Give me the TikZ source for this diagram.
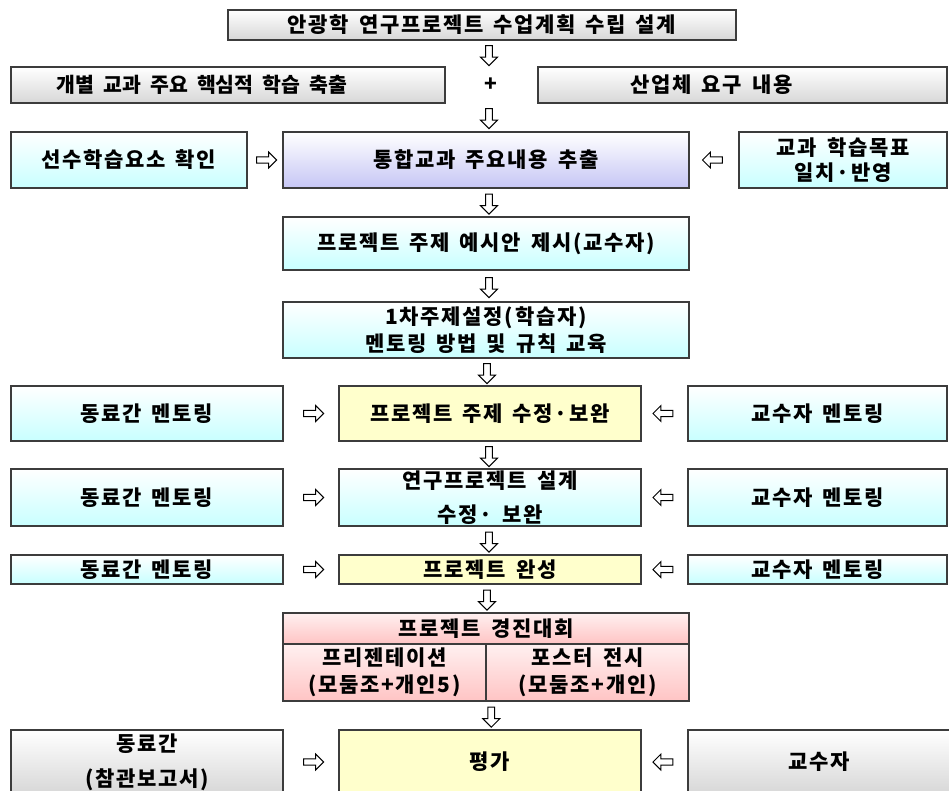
\documentclass[tikz,border=0pt]{standalone}
\usepackage{fontspec}
\setmainfont{Noto Sans CJK KR}[LetterSpace=8]
\newfontfamily\kfnarrow{Noto Sans CJK KR}[LetterSpace=0]
\usetikzlibrary{shapes.arrows,calc}
\definecolor{bordc}{RGB}{60,60,60}
\definecolor{grayb}{RGB}{215,215,215}
\definecolor{cyanb}{RGB}{200,255,255}
\definecolor{purpb}{RGB}{198,198,245}
\definecolor{yelb}{RGB}{255,255,204}
\definecolor{pinkt}{RGB}{255,240,240}
\definecolor{pinkb}{RGB}{255,196,196}
\newcommand\kfs[1]{\fontsize{21}{#1}\selectfont\bfseries\spaceskip=10pt\relax}
\newcommand\kf{\kfs{26pt}}
\newcommand\kfn{\kfnarrow\fontsize{20.5}{26}\selectfont\bfseries\spaceskip=9pt\relax}
\tikzset{
  box/.style={draw=bordc, line width=1.1pt, inner sep=0pt, align=center, font=\kf, text=black},
  gbox/.style={box, top color=white, bottom color=grayb},
  cbox/.style={box, top color=white, bottom color=cyanb},
  pbox/.style={box, top color=white, bottom color=purpb},
  ybox/.style={box, fill=yelb},
  kbox/.style={box, top color=pinkt, bottom color=pinkb},
  arrbase/.style={single arrow, draw=black, fill=white, line width=1pt, inner sep=2.6pt, single arrow head extend=4.8pt, anchor=center},
  darr/.style={arrbase, minimum height=20pt, minimum width=17pt, rotate=-90},
  rarr/.style={arrbase, minimum height=20pt, minimum width=15pt},
  larr/.style={arrbase, minimum height=20pt, minimum width=15pt, rotate=180}
}
\begin{document}
\begin{tikzpicture}[x=1pt,y=-1pt]
\useasboundingbox (0,0) rectangle (949,791);
\clip (0,0) rectangle (949,791);
\fill[white] (0,0) rectangle (949,791);
% top
\node[gbox, minimum width=508pt, minimum height=30pt] (T) at (482,25) {안광학 연구프로젝트 수업계획 수립 설계};
% row 2
\node[gbox, minimum width=434pt, minimum height=36pt, label={[font=\kfn, xshift=-26pt]center:개별 교과 주요 핵심적 학습 축출}] (L2) at (228,85) {};
\node[font=\kf] (plus) at (491,85) {+};
\node[gbox, minimum width=409pt, minimum height=36pt, label={[font=\kf, xshift=-31pt]center:산업체 요구 내용}] (R2) at (742.5,85) {};
% row 3
\node[cbox, minimum width=236pt, minimum height=56pt] (L3) at (129,160) {선수학습요소 확인};
\node[pbox, minimum width=406pt, minimum height=56pt] (C3) at (486,160) {통합교과 주요내용 추출};
\node[cbox, minimum width=208pt, minimum height=56pt, font={\kfs{25pt}}] (R3) at (843,160) {교과 학습목표\\일치·반영};
% row 4, 5
\node[cbox, minimum width=406pt, minimum height=53pt] (C4) at (486,243.5) {프로젝트 주제 예시안 제시(교수자)};
\node[cbox, minimum width=406pt, minimum height=56pt, font={\kfs{27pt}}] (C5) at (486,330) {1차주제설정(학습자)\\멘토링 방법 및 규칙 교육};
% row 6
\node[cbox, minimum width=272pt, minimum height=55pt] (L6) at (147,413.5) {동료간 멘토링};
\node[ybox, minimum width=302pt, minimum height=55pt] (C6) at (490,413.5) {프로젝트 주제 수정·보완};
\node[cbox, minimum width=259pt, minimum height=55pt] (R6) at (817.5,413.5) {교수자 멘토링};
% row 7
\node[cbox, minimum width=272pt, minimum height=57pt] (L7) at (147,497.5) {동료간 멘토링};
\node[cbox, minimum width=302pt, minimum height=57pt, font={\kfs{34pt}}] (C7) at (490,497.5) {연구프로젝트 설계\\수정· 보완};
\node[cbox, minimum width=259pt, minimum height=57pt] (R7) at (817.5,497.5) {교수자 멘토링};
% row 8
\node[cbox, minimum width=272pt, minimum height=29pt] (L8) at (147,569.5) {동료간 멘토링};
\node[ybox, minimum width=302pt, minimum height=29pt] (C8) at (490,569.5) {프로젝트 완성};
\node[cbox, minimum width=259pt, minimum height=29pt] (R8) at (817.5,569.5) {교수자 멘토링};
% row 9
\node[kbox, minimum width=406pt, minimum height=31pt] (P) at (486,628.5) {프로젝트 경진대회};
\node[kbox, minimum width=203pt, minimum height=57pt, font={\kfs{27pt}}] (P1) at (384.5,672.5) {프리젠테이션\\(모둠조+개인5)};
\node[kbox, minimum width=203pt, minimum height=57pt, font={\kfs{27pt}}] (P2) at (587.5,672.5) {포스터 전시\\(모둠조+개인)};
% row 10
\node[gbox, minimum width=272pt, minimum height=64pt, font={\kfs{35pt}}] (L10) at (147,762) {동료간\\(참관보고서)};
\node[ybox, minimum width=302pt, minimum height=64pt] (C10) at (490,762) {평가};
\node[gbox, minimum width=262pt, minimum height=64pt] (R10) at (819,762) {교수자};
% down arrows
\node[darr] (d1) at (489,54) {};
\node[darr] (d2) at (489,117) {};
\node[darr] (d3) at ($(C3.south)!0.5!(C4.north)+(3,0)$) {};
\node[darr] (d4) at ($(C4.south)!0.5!(C5.north)+(3,0)$) {};
\node[darr] (d5) at ($(C5.south)!0.5!(C6.north)+(-1,0)$) {};
\node[darr] (d6) at ($(C6.south)!0.5!(C7.north)+(-1,0)$) {};
\node[darr] (d7) at ($(C7.south)!0.5!(C8.north)+(-1,0)$) {};
\node[darr] (d8) at ($(C8.south)!0.5!(P.north)+(-1,0)$) {};
\node[darr] (d9) at ($(P1.south east)!0.5!(C10.north)+(3,0)$) {};
% horizontal arrows
\node[rarr] (h3l) at ($(L3.east)!0.5!(C3.west)$) {};
\node[larr] (h3r) at ($(C3.east)!0.5!(R3.west)$) {};
\node[rarr] (h6l) at ($(L6.east)!0.5!(C6.west)+(1,0)$) {};
\node[larr] (h6r) at ($(C6.east)!0.5!(R6.west)$) {};
\node[rarr] (h7l) at ($(L7.east)!0.5!(C7.west)+(1,0)$) {};
\node[larr] (h7r) at ($(C7.east)!0.5!(R7.west)$) {};
\node[rarr] (h8l) at ($(L8.east)!0.5!(C8.west)+(1,0)$) {};
\node[larr] (h8r) at ($(C8.east)!0.5!(R8.west)$) {};
\node[rarr] (h10l) at ($(L10.east)!0.5!(C10.west)+(1,0)$) {};
\node[larr] (h10r) at ($(C10.east)!0.5!(R10.west)$) {};
\end{tikzpicture}
\end{document}
